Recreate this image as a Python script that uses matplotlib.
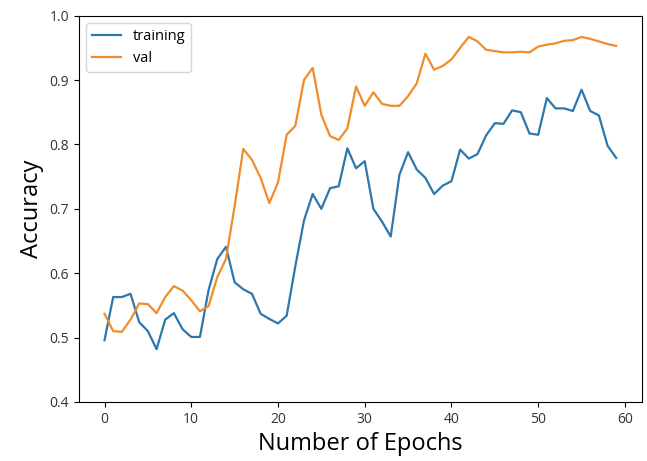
import matplotlib.pyplot as plt
import numpy as np

# accuracy per epoch
training = [0.496, 0.563, 0.563, 0.568, 0.524, 0.510, 0.482, 0.528, 0.538, 0.513,
            0.501, 0.501, 0.574, 0.622, 0.641, 0.586, 0.575, 0.568, 0.537, 0.529,
            0.522, 0.534, 0.611, 0.682, 0.723, 0.700, 0.732, 0.735, 0.794, 0.763,
            0.774, 0.700, 0.680, 0.657, 0.753, 0.788, 0.761, 0.748, 0.723, 0.736,
            0.743, 0.792, 0.778, 0.785, 0.814, 0.833, 0.832, 0.853, 0.850, 0.817,
            0.815, 0.872, 0.856, 0.856, 0.852, 0.885, 0.852, 0.845, 0.798, 0.779]
val = [0.537, 0.510, 0.509, 0.528, 0.553, 0.552, 0.538, 0.563, 0.580, 0.573,
       0.558, 0.541, 0.549, 0.594, 0.622, 0.704, 0.793, 0.776, 0.748, 0.709,
       0.741, 0.815, 0.829, 0.900, 0.919, 0.846, 0.813, 0.807, 0.825, 0.890,
       0.860, 0.881, 0.863, 0.860, 0.860, 0.875, 0.895, 0.941, 0.916, 0.922,
       0.932, 0.950, 0.967, 0.960, 0.947, 0.945, 0.943, 0.943, 0.944, 0.943,
       0.952, 0.955, 0.957, 0.961, 0.962, 0.967, 0.964, 0.960, 0.956, 0.953]
epochs = np.arange(len(training))

plt.rcParams['font.family'] = ['Open Sans', 'DejaVu Sans']

fig = plt.figure(figsize=(6.47, 4.61), dpi=100)
ax = fig.add_axes([0.122, 0.128, 0.870, 0.838])

# slightly muted versions of the default blue / orange
ax.plot(epochs, training, label='training', linewidth=1.6, color='#2c78ae')
ax.plot(epochs, val, label='val', linewidth=1.6, color='#f08c2a')

ax.set_ylim(0.4, 1.0)
ax.set_xticks([0, 10, 20, 30, 40, 50, 60])
ax.tick_params(labelsize=10, labelcolor='#333333')
ax.set_xlabel('Number of Epochs', fontsize=17)
ax.set_ylabel('Accuracy', fontsize=17)
ax.legend(loc='upper left', fontsize=10.5)

fig.savefig('out.png', dpi=100)
